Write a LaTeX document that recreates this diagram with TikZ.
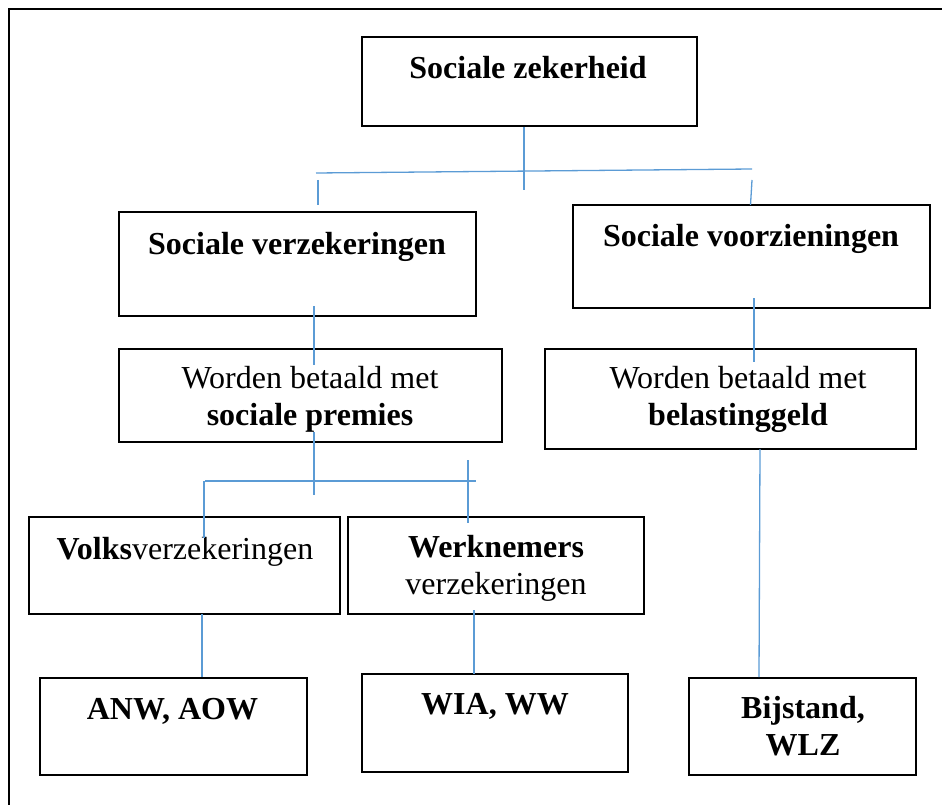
\documentclass[tikz,border=0pt]{standalone}
\usepackage{fontspec}
\setmainfont{Liberation Serif}
\definecolor{lineblue}{RGB}{91,155,213}
\begin{document}
\begin{tikzpicture}[x=1pt,y=-1pt,
  box/.style={draw=black, line width=2.2pt, inner sep=0pt, fill=none},
  lbl/.style={font=\fontsize{32}{37}\selectfont, align=center, anchor=base, inner sep=0pt},
  link/.style={draw=lineblue, line width=1.3pt}]
\useasboundingbox (0,0) rectangle (942,805);
% outer frame
\draw[line width=2.4pt] (942,9) -- (9,9) -- (9,805);
% boxes
\node[box, minimum width=335, minimum height=89] (sz) at (529.5,81.5) {};
\node[box, minimum width=357, minimum height=104] (sv) at (297.5,264) {};
\node[box, minimum width=357, minimum height=103] (svz) at (751.5,256.5) {};
\node[box, minimum width=383, minimum height=93] (sp) at (310.5,395.5) {};
\node[box, minimum width=371, minimum height=100] (bg) at (730.5,399) {};
\node[box, minimum width=311, minimum height=97] (vv) at (184.5,565.5) {};
\node[box, minimum width=296, minimum height=97] (wv) at (496,565.5) {};
\node[box, minimum width=267, minimum height=97] (anw) at (173.5,726.5) {};
\node[box, minimum width=266, minimum height=98] (wia) at (495,723) {};
\node[box, minimum width=227, minimum height=97] (bij) at (802.5,726.5) {};
% texts (base anchor = baseline of the last line)
\node[lbl] (tsz) at (528,79) {\textbf{Sociale zekerheid}};
\node[lbl] (tsv) at (297,254) {\textbf{Sociale verzekeringen}};
\node[lbl] (tsvz) at (751,247) {\textbf{Sociale voorzieningen}};
\node[lbl] (tsp) at (310,425) {Worden betaald met\\\textbf{sociale premies}};
\node[lbl] (tbg) at (738,425) {Worden betaald met\\\textbf{belastinggeld}};
\node[lbl] (tvv) at (185,559) {\textbf{Volks}verzekeringen};
\node[lbl] (twv) at (496,594) {\textbf{Werknemers}\\verzekeringen};
\node[lbl] (tanw) at (172.5,719) {\textbf{ANW, AOW}};
\node[lbl] (twia) at (495,714) {\textbf{WIA, WW}};
\node[lbl] (tbij) at (803,755) {\textbf{Bijstand,}\\\textbf{WLZ}};
% connector end points
\coordinate (a1) at (524,127); \coordinate (a2) at (524,190);
\coordinate (h1) at (316,173); \coordinate (h2) at (752,169);
\coordinate (l1) at (318,180); \coordinate (l2) at (318,205);
\coordinate (r1) at (752,180); \coordinate (r2) at (750.5,205);
\coordinate (p1) at (314,306); \coordinate (p2) at (314,365);
\coordinate (q1) at (754,298); \coordinate (q2) at (754,362);
\coordinate (s1) at (314,432); \coordinate (s2) at (314,495);
\coordinate (g1) at (205,481); \coordinate (g2) at (476,481);
\coordinate (v1) at (204,481); \coordinate (v2) at (204,538);
\coordinate (w1) at (468,460); \coordinate (w2) at (468,523);
\coordinate (n1) at (202,614); \coordinate (n2) at (202,677);
\coordinate (m1) at (474,610); \coordinate (m2) at (474,674);
\coordinate (b1) at (760,449); \coordinate (b2) at (759,677);
% connectors
\draw[link] (a1) -- (a2);
\draw[link] (h1) -- (h2);
\draw[link] (l1) -- (l2);
\draw[link] (r1) -- (r2);
\draw[link] (p1) -- (p2);
\draw[link] (q1) -- (q2);
\draw[link] (s1) -- (s2);
\draw[link] (g1) -- (g2);
\draw[link] (v1) -- (v2);
\draw[link] (w1) -- (w2);
\draw[link] (n1) -- (n2);
\draw[link] (m1) -- (m2);
\draw[link] (b1) -- (b2);
\end{tikzpicture}
\end{document}
